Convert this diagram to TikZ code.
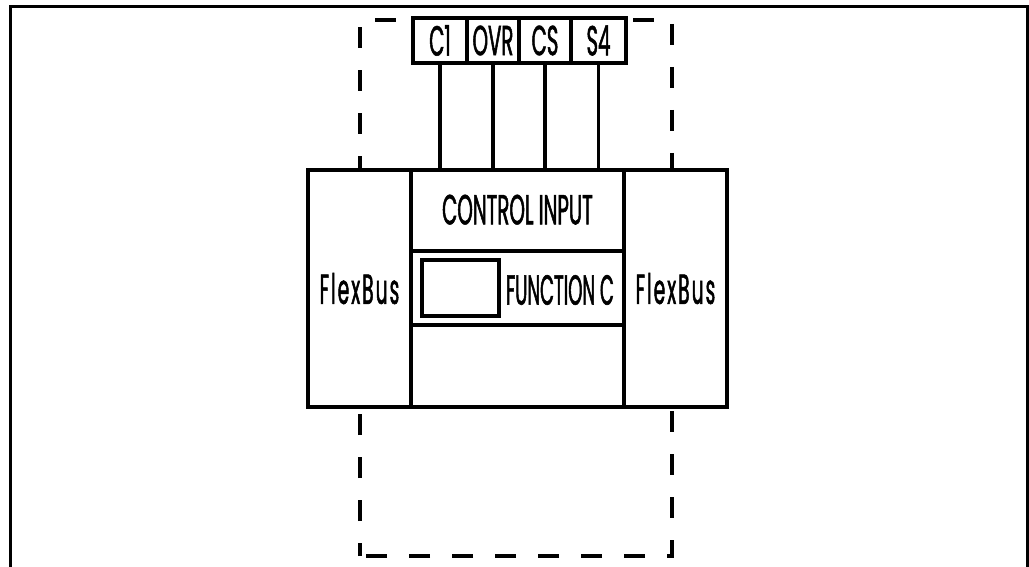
\documentclass[tikz,border=0pt]{standalone}
\usepackage{fontspec}
\setmainfont[FakeStretch=0.47,FakeBold=1.2]{Poppins}
\newfontfamily\spacedfont[FakeStretch=0.44,FakeBold=1.2,LetterSpace=5]{Poppins}
\newfontfamily\narrowfont[FakeStretch=0.43,FakeBold=1.2]{Poppins}
\usetikzlibrary{positioning}
\tikzset{
  box/.style={draw, line width=3.5pt, fill=white, inner sep=0pt, outer sep=0pt, anchor=north west},
  lbl/.style={font=\fontsize{42}{44}\selectfont},
  wire/.style={draw, line width=3.5pt},
}

\begin{document}
\begin{tikzpicture}[x=1pt, y=-1pt, lbl]
	\useasboundingbox (0,0) rectangle (1029,567);
	% outer frame
	\draw [line width=3pt] (10,567) -- (10,7) -- (1027,7) -- (1027,567);
	% dashed boundary
	\draw [line width=4pt, dash pattern=on 21pt off 22pt, dash phase=8pt] (360,556) -- (360,20) -- (672,20) -- (672,556) -- cycle;
	% main block
	\node[box, minimum width=103pt, minimum height=237pt] (flexL) at (308,170) {\spacedfont FlexBus};
	\node[box, minimum width=213pt, minimum height=81pt, text depth=2pt] (ctrl) at (flexL.north east) {CONTROL INPUT};
	\node[box, minimum width=213pt, minimum height=74pt] (func) at (ctrl.south west) {};
	\node[box, minimum width=213pt, minimum height=82pt] (lower) at (func.south west) {};
	\node[box, minimum width=103pt, minimum height=237pt] (flexR) at (ctrl.north east) {\spacedfont FlexBus};
	\node[box, minimum width=77pt, minimum height=56pt] (slot) at (422,260) {};
	\node (funclbl) at (560,290) {\narrowfont FUNCTION C};
	% control signals
	\node[box, minimum width=54pt, minimum height=45pt] (c1) at (413,18) {C1};
	\node[box, minimum width=52pt, minimum height=45pt] (ovr) at (c1.north east) {OVR};
	\node[box, minimum width=52pt, minimum height=45pt] (cs) at (ovr.north east) {CS};
	\node[box, minimum width=55pt, minimum height=45pt] (s4) at (cs.north east) {S4};
	\foreach \s in {c1,ovr,cs,s4}
		\draw [wire] (\s.south) -- (\s.south |- ctrl.north);
\end{tikzpicture}
\end{document}
